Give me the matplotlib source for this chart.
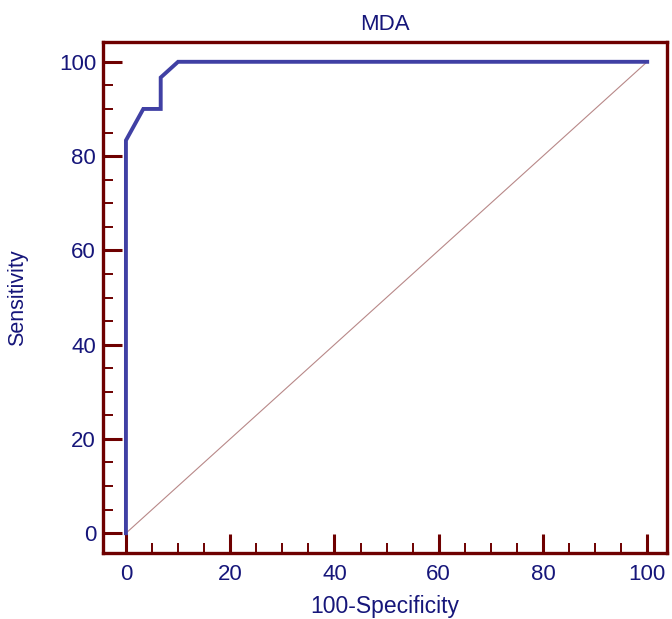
import matplotlib
matplotlib.use("Agg")
import matplotlib.pyplot as plt
from matplotlib.ticker import MultipleLocator

plt.rcParams['font.family'] = ['Liberation Sans', 'DejaVu Sans']

# ROC data (percent)
fpr = [0, 0, 3.33, 6.67, 6.67, 10.0, 100]   # 100-Specificity
tpr = [0, 83.33, 90.0, 90.0, 96.67, 100, 100]  # Sensitivity
diag = [0, 100]
title = "MDA"
xlabel = "100-Specificity"
ylabel = "Sensitivity"

navy = '#16167a'
maroon = '#6e0000'
curve_col = '#4040a4'
diag_col = '#b88888'

fig = plt.figure(figsize=(6.72, 6.19), dpi=100)
ax = fig.add_axes([103/672, 1-553/619, (667-103)/672, (553-42)/619])

ax.plot(diag, diag, color=diag_col, lw=0.8, zorder=2)
ax.plot(fpr, tpr, color=curve_col, lw=2.8, solid_joinstyle='miter', zorder=3)

ax.set_xlim(-4.4, 103.8)
ax.set_ylim(-4.2, 104.2)

ax.xaxis.set_major_locator(MultipleLocator(20))
ax.xaxis.set_minor_locator(MultipleLocator(5))
ax.yaxis.set_major_locator(MultipleLocator(20))
ax.yaxis.set_minor_locator(MultipleLocator(5))

for s in ax.spines.values():
    s.set_color(maroon)
    s.set_linewidth(2.4)

ax.tick_params(axis='both', which='major', direction='in', length=14, width=2.2,
               color=maroon, labelcolor=navy, labelsize=16)
ax.tick_params(axis='both', which='minor', direction='in', length=7, width=1.4,
               color=maroon)
ax.tick_params(axis='x', which='major', pad=8)
ax.tick_params(axis='y', which='major', pad=5)

ax.set_title(title, color=navy, fontsize=16, pad=9)
ax.set_xlabel(xlabel, color=navy, fontsize=16.5)
ax.set_ylabel(ylabel, color=navy, fontsize=15.5)
ax.xaxis.set_label_coords(0.5, -0.083)
ax.yaxis.set_label_coords(-0.133, 0.5)

fig.savefig("out.png", dpi=100)
